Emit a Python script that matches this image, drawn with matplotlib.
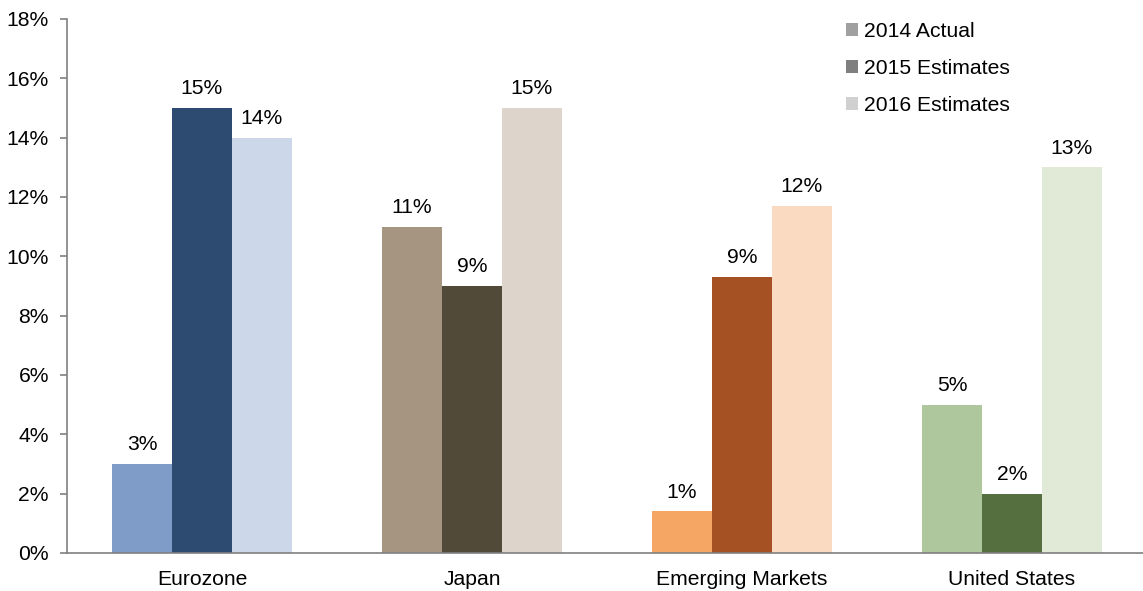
import matplotlib
matplotlib.use("Agg")
import matplotlib.pyplot as plt
from matplotlib.patches import Patch
import numpy as np

plt.rcParams['font.family'] = ['Liberation Sans', 'DejaVu Sans']

categories = ["Eurozone", "Japan", "Emerging Markets", "United States"]
series = ["2014 Actual", "2015 Estimates", "2016 Estimates"]
v2014 = [3.0, 11.0, 1.4, 5.0]
v2015 = [15.0, 9.0, 9.3, 2.0]
v2016 = [14.0, 15.0, 11.7, 13.0]
labels2014 = ["3%", "11%", "1%", "5%"]
labels2015 = ["15%", "9%", "9%", "2%"]
labels2016 = ["14%", "15%", "12%", "13%"]

colors = [
    ["#7F9CC9", "#2D4A70", "#CCD8EA"],
    ["#A69580", "#524A38", "#DDD5CB"],
    ["#F5A664", "#A65124", "#FADBC1"],
    ["#AFC79C", "#556F3F", "#E1EAD7"],
]
legend_colors = ["#A0A0A0", "#7F7F7F", "#D0D0D0"]

FS = 15.2
W, H = 1143, 591
fig = plt.figure(figsize=(W / 100, H / 100), dpi=100)
ax = fig.add_axes([67 / W, 38 / H, 1080 / W, 534 / H])

x = np.arange(len(categories))
bw = 0.2222
vals = [v2014, v2015, v2016]
labs = [labels2014, labels2015, labels2016]
for s in range(3):
    offs = (s - 1) * bw
    bar_colors = [colors[c][s] for c in range(len(categories))]
    bars = ax.bar(x + offs, vals[s], width=bw, color=bar_colors, linewidth=0)
    for b, t in zip(bars, labs[s]):
        ax.annotate(t, (b.get_x() + b.get_width() / 2, b.get_height()),
                    xytext=(0, 7), textcoords="offset points",
                    ha="center", va="bottom", fontsize=FS, color="#000000")

ax.set_xlim(-0.5, 3.5)
ax.set_ylim(0, 18)
ax.set_yticks(np.arange(0, 19, 2))
ax.set_yticklabels([f"{v}%" for v in range(0, 19, 2)], fontsize=FS)
ax.set_xticks(x)
ax.set_xticklabels(categories, fontsize=FS)
ax.tick_params(axis="x", length=0, pad=12.5)
ax.tick_params(axis="y", length=5, color="#808080", width=1.2, pad=8)
for sp in ["top", "right"]:
    ax.spines[sp].set_visible(False)
for sp in ["left", "bottom"]:
    ax.spines[sp].set_color("#808080")
    ax.spines[sp].set_linewidth(1.2)

handles = [Patch(facecolor=c, edgecolor="none") for c in legend_colors]
leg = ax.legend(handles, series, loc="upper left", bbox_to_anchor=(846 / W, 1 - 22 / H),
                bbox_transform=fig.transFigure, frameon=False, fontsize=FS,
                handlelength=0.55, handleheight=0.55, handletextpad=0.3,
                labelspacing=0.85, borderaxespad=0.0, borderpad=0.0)

fig.savefig("out.png", dpi=100)
